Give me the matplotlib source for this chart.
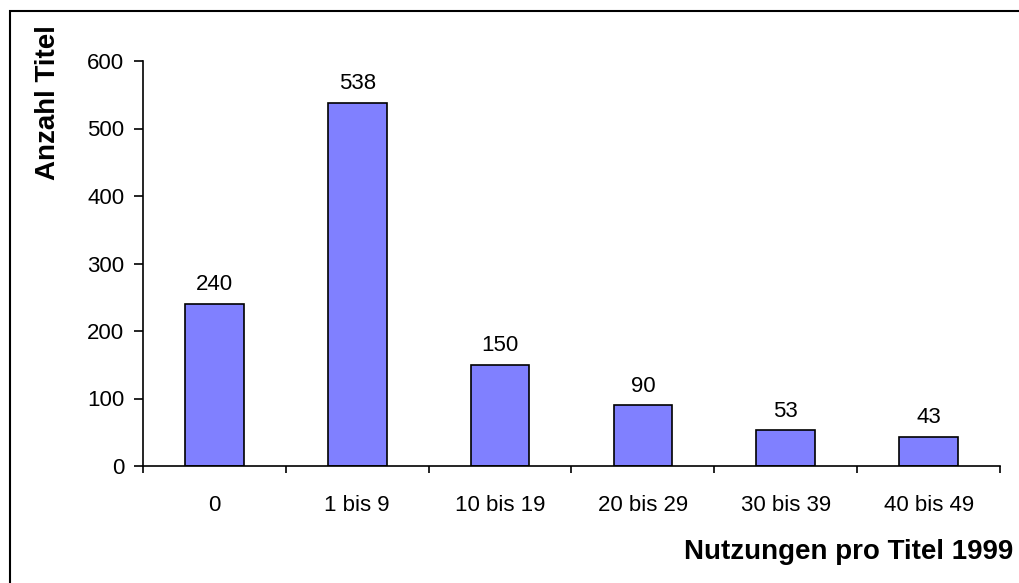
import matplotlib.pyplot as plt
from matplotlib.patches import Rectangle

categories = ['0', '1 bis 9', '10 bis 19', '20 bis 29', '30 bis 39', '40 bis 49']
counts = [240, 538, 150, 90, 53, 43]
y_ticks = [0, 100, 200, 300, 400, 500, 600]

plt.rcParams['font.family'] = ['Liberation Sans', 'DejaVu Sans']

W, H = 1020, 583
fig = plt.figure(figsize=(W / 100, H / 100), dpi=100)

# outer frame, cut off at right and bottom like the original
fig.patches.append(Rectangle((10 / W, -0.1), 2, 1.1 - 11 / H, transform=fig.transFigure,
                             fill=False, edgecolor='black', linewidth=1.5))

# axes box in pixels: left 143, right 1000, top (600) 61, bottom (0) 466
ax = fig.add_axes([143 / W, 1 - 466 / H, (1000 - 143) / W, (466 - 61) / H])

x = range(len(categories))
ax.bar(x, counts, width=0.41, color='#8080FF', edgecolor='black', linewidth=1.2)

for xi, c in zip(x, counts):
    ax.annotate(str(c), (xi, c), xytext=(0, 19), textcoords='offset pixels',
                ha='center', va='center', fontsize=16)

ax.set_xlim(-0.5, len(categories) - 0.5)
ax.set_ylim(0, 600)
ax.set_yticks(y_ticks)
ax.tick_params(axis='y', direction='out', length=6.5, width=1.2, labelsize=16, pad=7)

# category labels centred, tick marks between categories
ax.set_xticks(list(x))
ax.set_xticklabels(categories, fontsize=16)
ax.tick_params(axis='x', which='major', length=0, pad=21)
ax.set_xticks([i - 0.5 for i in range(len(categories) + 1)], minor=True)
ax.tick_params(axis='x', which='minor', direction='out', length=5, width=1.2)

for side in ['top', 'right']:
    ax.spines[side].set_visible(False)
for side in ['left', 'bottom']:
    ax.spines[side].set_linewidth(1.2)

fig.text(48 / W, 1 - 103 / H, 'Anzahl Titel', rotation=90, ha='center', va='center',
         fontsize=20, fontweight='bold')
fig.text(1013 / W, 1 - 552 / H, 'Nutzungen pro Titel 1999', ha='right', va='center',
         fontsize=20, fontweight='bold')

fig.savefig('out.png', dpi=100)
